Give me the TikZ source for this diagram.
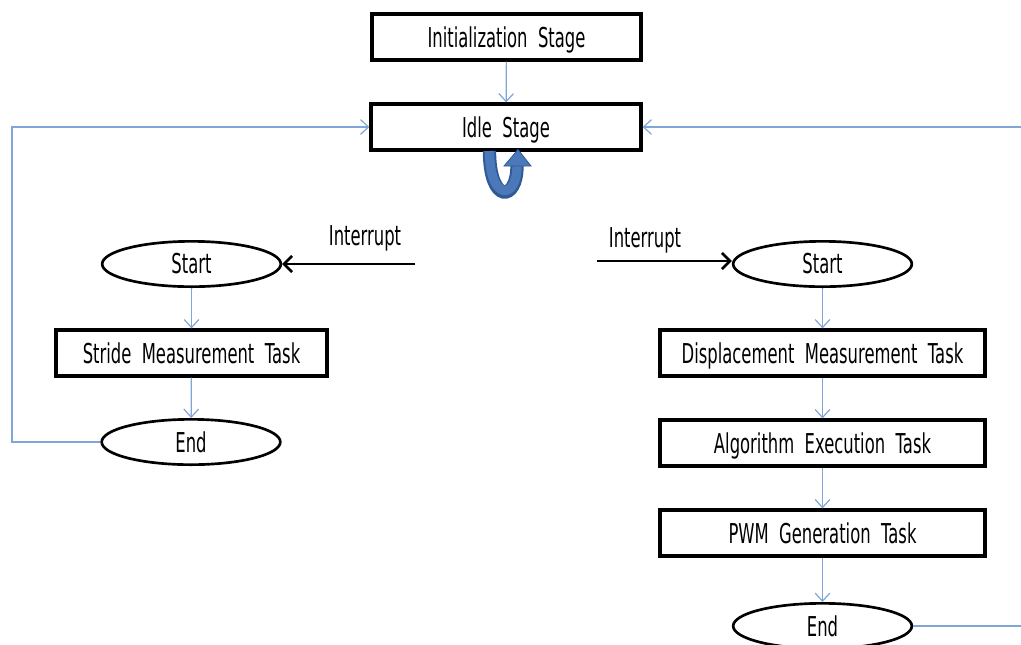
\documentclass[tikz,border=0pt]{standalone}
\usepackage{fontspec}
\setmainfont{DejaVu Sans}[FakeStretch=0.6]
\usetikzlibrary{arrows.meta,shapes.geometric}
\definecolor{lineblue}{HTML}{7FA6D6}
\definecolor{loopblue}{HTML}{4A78B8}
\definecolor{loopdark}{HTML}{2F5A96}
\tikzset{
  txt/.style={font=\fontsize{20.5}{24}\selectfont},
  box/.style={draw=black, line width=2.4pt, minimum width=#1*0.75pt, minimum height=34.5pt, inner sep=0pt, txt, text depth=0pt, yshift=0pt},
  oval/.style={draw=black, line width=2pt, ellipse, minimum width=134pt, minimum height=34pt, inner sep=0pt, txt},
  flow/.style={draw=lineblue, line width=0.9pt, -{Straight Barb[length=6pt,width=11pt]}},
  plain/.style={draw=lineblue, line width=0.9pt},
  intarrow/.style={draw=black, line width=2.2pt, -{Straight Barb[length=6pt,width=12pt,line width=2pt]}},
  lbl/.style={txt, inner sep=0pt}
}
\begin{document}
\begin{tikzpicture}[x=0.75pt,y=-0.75pt]
\useasboundingbox (0,0) rectangle (1021,644);
\begin{scope}
\clip (0,0) rectangle (1021,644);
% nodes
\node[box=269] (init) at (506.5,37) {Initialization\ \ Stage};
\node[box=270] (idle) at (506,127) {Idle\ \ Stage};
\node[oval] (lstart) at (191.5,264) {Start};
\node[box=271] (stride) at (191.5,353) {Stride\ \ Measurement\ \ Task};
\node[oval] (lend) at (191,442) {End};
\node[oval] (rstart) at (822.5,264) {Start};
\node[box=325] (disp) at (822.5,353) {Displacement\ \ Measurement\ \ Task};
\node[box=325] (algo) at (822.5,443) {Algorithm\ \ Execution\ \ Task};
\node[box=325] (pwm) at (822.5,533) {PWM\ \ Generation\ \ Task};
\node[oval] (rend) at (822.5,626) {End};
% labels
\node[lbl] (lint) at (365,238) {Interrupt};
\node[lbl] (rint) at (645,240) {Interrupt};
% coordinates
\coordinate (lintstart) at (415,264);
\coordinate (rintstart) at (597,261);
\coordinate (lcorner1) at (12,442);
\coordinate (lcorner2) at (12,127);
\coordinate (redge1) at (1025,127);
\coordinate (redge2) at (1025,626);
% connectors
\draw[flow] (init) -- (idle);
\draw[flow] (lstart) -- (stride);
\draw[flow] (stride) -- (lend);
\draw[flow] (disp) -- (algo);
\draw[flow] (algo) -- (pwm);
\draw[flow] (pwm) -- (rend);
\draw[flow] (rstart) -- (disp);
\draw[flow] (lend.west) -- (lcorner1) -- (lcorner2) -- (idle.west);
\draw[flow] (redge1) -- (idle.east);
\draw[plain] (rend.east) -- (redge2);
\draw[intarrow] (lintstart) -- (lstart.east);
\draw[intarrow] (rintstart) -- (rstart.west |- rintstart);
% loop arrow
\coordinate (loopL) at (489.5,151);
\coordinate (loopR) at (517,166);
\draw[loopdark, line width=10pt, line cap=butt] (loopL) .. controls (489.5,204) and (517,202) .. (loopR);
\draw[loopblue, line width=7pt, line cap=butt] (loopL) .. controls (489.5,202) and (517,200) .. (loopR);
\fill[loopblue, draw=loopdark, line width=0.6pt] (504,166) -- (518,149.5) -- (531,166) -- cycle;
\end{scope}
\end{tikzpicture}
\end{document}
